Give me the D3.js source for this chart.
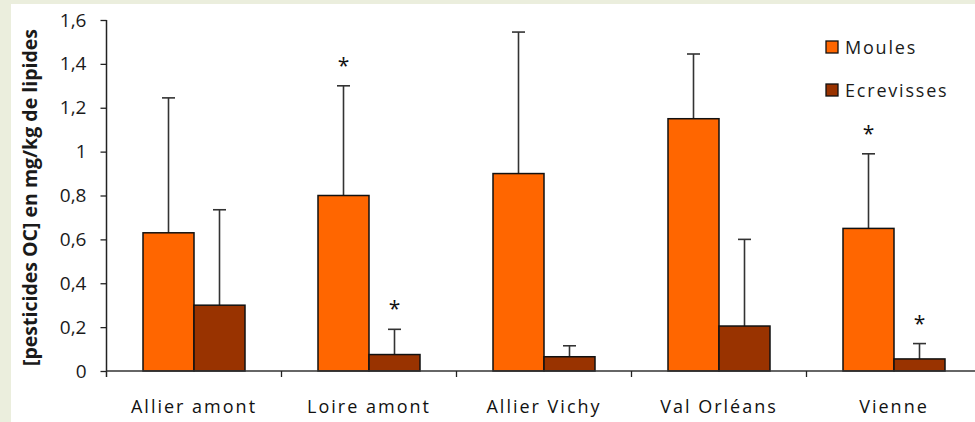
<!DOCTYPE html>
<html>
<head>
<meta charset="utf-8">
<script src="https://cdn.jsdelivr.net/npm/d3@7"></script>
<style>
  html, body { margin: 0; padding: 0; background: #ebeedd; }
  svg { display: block; }
</style>
</head>
<body>
<svg id="chart" width="975" height="422"></svg>
<script>
// Sites sampled
const categories = ["Allier amont", "Loire amont", "Allier Vichy", "Val Orléans", "Vienne"];
const seriesNames = ["Moules", "Ecrevisses"];
// Mean concentrations (mg/kg lipids)
const moules = [0.63, 0.80, 0.90, 1.15, 0.65];
const ecrevisses = [0.30, 0.075, 0.065, 0.205, 0.055];
// Upper end of the error bars (mean + SD)
const moulesErr = [1.245, 1.30, 1.545, 1.445, 0.99];
const ecrevissesErr = [0.735, 0.19, 0.115, 0.60, 0.125];
// Significance flags
const moulesStar = [false, true, false, false, true];
const ecrevissesStar = [false, true, false, false, true];
const yTicks = [0, 0.2, 0.4, 0.6, 0.8, 1, 1.2, 1.4, 1.6];

const colors = ["#ff6600", "#993300"];
const font = "'Open Sans', 'Liberation Sans', sans-serif";

const svg = d3.select("#chart");
// white panel inside the pale frame
svg.append("rect").attr("x", 11).attr("y", 4).attr("width", 975 - 11).attr("height", 422 - 4).attr("fill", "#ffffff");

const x0 = 106.5, yZero = 371, yTop = 20;
const x = d3.scaleBand().domain(categories).range([x0, x0 + 175 * 5]).paddingInner(0).paddingOuter(0);
const y = d3.scaleLinear().domain([0, 1.6]).range([yZero, yTop]);
const xs = d3.scaleBand().domain(seriesNames).range([0, 102]);

const rows = categories.map((c, i) => ({
  cat: c,
  vals: [
    { s: "Moules", v: moules[i], e: moulesErr[i], star: moulesStar[i] },
    { s: "Ecrevisses", v: ecrevisses[i], e: ecrevissesErr[i], star: ecrevissesStar[i] }
  ]
}));

const groups = svg.append("g").selectAll("g").data(rows).join("g")
  .attr("transform", d => `translate(${x(d.cat) + x.bandwidth() / 2 - 51},0)`);

// error bars (drawn before bars so the stem starts at the bar top)
groups.selectAll("g.err").data(d => d.vals).join("g").attr("class", "err").each(function(d) {
  const g = d3.select(this);
  const cx = xs(d.s) + xs.bandwidth() / 2;
  g.append("line").attr("x1", cx).attr("x2", cx).attr("y1", y(d.v)).attr("y2", y(d.e))
    .attr("stroke", "#333").attr("stroke-width", 1.6);
  g.append("line").attr("x1", cx - 6.5).attr("x2", cx + 6.5).attr("y1", y(d.e)).attr("y2", y(d.e))
    .attr("stroke", "#333").attr("stroke-width", 1.6);
  if (d.star) {
    g.append("text").attr("x", cx).attr("y", y(d.e) - 13).attr("text-anchor", "middle")
      .attr("font-family", font).attr("font-size", 21).attr("fill", "#111").text("*");
  }
});

groups.selectAll("rect").data(d => d.vals).join("rect")
  .attr("x", d => xs(d.s))
  .attr("width", xs.bandwidth())
  .attr("y", d => y(d.v))
  .attr("height", d => yZero - y(d.v))
  .attr("fill", (d, i) => colors[i])
  .attr("stroke", "#111").attr("stroke-width", 1.5);

// y axis
const yAxis = d3.axisLeft(y).tickValues(yTicks).tickSize(6).tickPadding(14)
  .tickFormat(d => d3.format("")(d).replace(".", ","));
const gy = svg.append("g").attr("transform", `translate(${x0},0)`).call(yAxis);
gy.select(".domain").attr("d", `M0,${yTop}V${yZero + 6}`).attr("stroke", "#222").attr("stroke-width", 1.5);
gy.selectAll(".tick line").attr("stroke", "#222").attr("stroke-width", 1.3);
gy.selectAll(".tick text").attr("font-family", font).attr("font-size", 19).attr("fill", "#1a1a1a");

// x axis
const xAxis = d3.axisBottom(x).tickSize(0).tickPadding(29);
const gx = svg.append("g").attr("transform", `translate(0,${yZero})`).call(xAxis);
gx.select(".domain").attr("d", `M${x0},0H975`).attr("stroke", "#333").attr("stroke-width", 1.5);
gx.selectAll(".tick text").attr("font-family", font).attr("font-size", 18)
  .attr("letter-spacing", 2).attr("fill", "#111");
gx.selectAll("line.sep").data(categories.slice(1)).join("line").attr("class", "sep")
  .attr("x1", d => x(d)).attr("x2", d => x(d)).attr("y1", 0).attr("y2", 6)
  .attr("stroke", "#222").attr("stroke-width", 1.3);

// y axis title
svg.append("text")
  .attr("transform", `translate(37,${(yTop + yZero) / 2 + 2}) rotate(-90)`)
  .attr("text-anchor", "middle")
  .attr("font-family", font).attr("font-size", 19.5).attr("font-weight", "bold").attr("fill", "#1a1a1a")
  .text("[pesticides OC] en mg/kg de lipides");

// legend
const legend = svg.append("g").attr("transform", "translate(826,41)");
seriesNames.forEach((s, i) => {
  const g = legend.append("g").attr("transform", `translate(0,${i * 43})`);
  g.append("rect").attr("width", 12).attr("height", 12).attr("fill", colors[i]).attr("stroke", "#111").attr("stroke-width", 1.3);
  g.append("text").attr("x", 19).attr("y", 13).attr("font-family", font).attr("font-size", 18)
    .attr("letter-spacing", 1.8).attr("fill", "#1a1a1a").text(s);
});
</script>
</body>
</html>
